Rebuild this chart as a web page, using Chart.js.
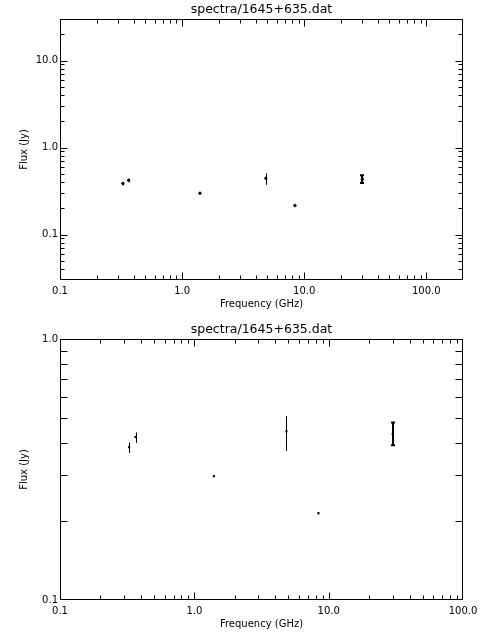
<!DOCTYPE html>
<html><head><meta charset="utf-8">
<script src="https://cdn.jsdelivr.net/npm/chart.js@4"></script>
<style>
html,body{margin:0;padding:0;background:#fff;}
.p{position:absolute;left:0;width:480px;height:320px;}
canvas{display:block;}
</style>
</head><body>
<div class="p" style="top:0"><canvas id="c1" width="480" height="320"></canvas></div>
<div class="p" style="top:320px"><canvas id="c2" width="480" height="320"></canvas></div>
<script>
// ---- data ----
const TITLE = 'spectra/1645+635.dat';
const X_LABEL = 'Frequency (GHz)';
const Y_LABEL = 'Flux (Jy)';
const frequency = [0.327, 0.365, 1.4, 4.85, 8.4, 30.0];
const flux      = [0.385, 0.421, 0.298, 0.443, 0.215, 0.433];
const fluxLow   = [0.366, 0.400, 0.296, 0.372, 0.213, 0.392];
const fluxHigh  = [0.401, 0.438, 0.300, 0.507, 0.217, 0.479];

const xMajorTicks = [0.1, 1, 10, 100];
const xTickLabels = ['0.1', '1.0', '10.0', '100.0'];
const xMinorTicks = [0.2,0.3,0.4,0.5,0.6,0.7,0.8,0.9, 2,3,4,5,6,7,8,9, 20,30,40,50,60,70,80,90, 200];

const yMajorTop = [0.1, 1, 10];
const yTickLabelsTop = ['0.1', '1.0', '10.0'];
const yMinorTop = [0.03,0.04,0.05,0.06,0.07,0.08,0.09, 0.2,0.3,0.4,0.5,0.6,0.7,0.8,0.9, 2,3,4,5,6,7,8,9, 20,30];

const yMajorBottom = [0.1, 1];
const yTickLabelsBottom = ['0.1', '1.0'];
const yMinorBottom = [0.2,0.3,0.4,0.5,0.6,0.7,0.8,0.9];

// ---- chart ----
Chart.defaults.color = '#000';
Chart.defaults.font.family = 'DejaVu Sans';
Chart.defaults.font.size = 10;

function makeChart(id, cfg) {
  const idl = {
    id: 'idl',
    beforeDatasetsDraw(chart) {
      const {ctx, scales: {x, y}} = chart;
      ctx.save();
      ctx.strokeStyle = '#000';
      frequency.forEach((f, i) => {
        const capped = cfg.capIdx.includes(i);
        const lw = capped ? 2 : 1;
        ctx.lineWidth = lw;
        const px = Math.round(x.getPixelForValue(f)) + (lw === 1 ? 0.5 : 0);
        const y1 = y.getPixelForValue(fluxLow[i]);
        const y2 = y.getPixelForValue(fluxHigh[i]);
        ctx.beginPath();
        ctx.moveTo(px, y1); ctx.lineTo(px, y2);
        if (capped) {
          ctx.moveTo(px - cfg.cap, y1); ctx.lineTo(px + cfg.cap, y1);
          ctx.moveTo(px - cfg.cap, y2); ctx.lineTo(px + cfg.cap, y2);
        }
        ctx.stroke();
      });
      ctx.restore();
    },
    afterDraw(chart) {
      const {ctx, chartArea: a, scales: {x, y}} = chart;
      ctx.save();
      ctx.strokeStyle = '#000';
      ctx.lineWidth = 1;
      const L = Math.round(a.left) + 0.5, R = Math.round(a.right) - 0.5;
      const T = Math.round(a.top) + 0.5, B = Math.round(a.bottom) - 0.5;
      ctx.strokeRect(L, T, R - L, B - T);
      ctx.beginPath();
      const xt = (vals, len) => vals.forEach(v => {
        const p = Math.round(x.getPixelForValue(v)) + 0.5;
        if (p < L - 0.1 || p > R + 0.1) return;
        ctx.moveTo(p, B); ctx.lineTo(p, B - len);
        ctx.moveTo(p, T); ctx.lineTo(p, T + len);
      });
      const yt = (vals, len) => vals.forEach(v => {
        const p = Math.round(y.getPixelForValue(v)) + 0.5;
        if (p < T - 0.1 || p > B + 0.1) return;
        ctx.moveTo(L, p); ctx.lineTo(L + len, p);
        ctx.moveTo(R, p); ctx.lineTo(R - len, p);
      });
      xt(xMajorTicks, 7); xt(xMinorTicks, 4);
      yt(cfg.yMajor, 7); yt(cfg.yMinor, cfg.yMinorLen);
      ctx.stroke();
      ctx.restore();
    }
  };

  return new Chart(document.getElementById(id), {
    type: 'scatter',
    data: {
      datasets: [{
        data: frequency.map((f, i) => ({x: f, y: flux[i]})),
        pointStyle: cfg.pointStyle,
        pointRadius: cfg.pointRadius,
        backgroundColor: '#000',
        borderColor: '#000',
        borderWidth: 0,
        showLine: false
      }]
    },
    options: {
      responsive: false,
      animation: false,
      events: [],
      layout: {padding: {left: 0, right: 17, top: 0, bottom: 0}},
      plugins: {
        legend: {display: false},
        tooltip: {enabled: false},
        title: {
          display: true, text: TITLE, fullSize: false,
          font: {size: 12.5, weight: 'normal'}, color: '#000',
          padding: {top: 2, bottom: 2}
        }
      },
      scales: {
        x: {
          type: 'logarithmic', min: cfg.xMin, max: cfg.xMax,
          grid: {display: false, drawTicks: false, tickLength: 0}, border: {display: false},
          ticks: {padding: 5, autoSkip: false, maxRotation: 0,
                  callback: (v, i) => xTickLabels[i]},
          afterBuildTicks: s => { s.ticks = xMajorTicks.map(v => ({value: v})); },
          afterFit: s => { s.height = 40; s.paddingLeft = 0; s.paddingRight = 0; },
          title: {display: true, text: X_LABEL, padding: {top: 0, bottom: 10}}
        },
        y: {
          type: 'logarithmic', min: cfg.yMin, max: cfg.yMax,
          grid: {display: false, drawTicks: false, tickLength: 0}, border: {display: false},
          ticks: {padding: 2, autoSkip: false,
                  callback: (v, i) => cfg.yLabels[i]},
          afterBuildTicks: s => { s.ticks = cfg.yMajor.map(v => ({value: v})); },
          afterFit: s => { s.width = 60; s.paddingTop = 0; s.paddingBottom = 0; },
          title: {display: true, text: Y_LABEL, padding: {top: 18, bottom: 0}}
        }
      }
    },
    plugins: [idl]
  });
}

makeChart('c1', {
  xMin: 0.1, xMax: 200, yMin: 0.03, yMax: 30,
  yMajor: yMajorTop, yLabels: yTickLabelsTop, yMinor: yMinorTop, yMinorLen: 4,
  pointStyle: 'rectRot', pointRadius: 2, capIdx: [5], cap: 2
});
makeChart('c2', {
  xMin: 0.1, xMax: 100, yMin: 0.1, yMax: 1,
  yMajor: yMajorBottom, yLabels: yTickLabelsBottom, yMinor: yMinorBottom, yMinorLen: 7,
  pointStyle: 'rect', pointRadius: 1.5, capIdx: [5], cap: 2
});
</script>
</body></html>
